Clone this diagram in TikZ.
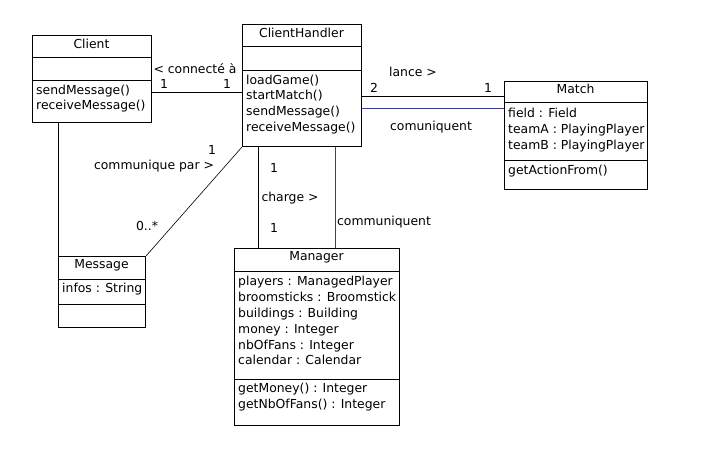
\documentclass[tikz,border=0pt]{standalone}
\usepackage{fontspec}
\setmainfont{DejaVu Sans}
\begin{document}
\begin{tikzpicture}[x=1pt,y=-1pt,
  box/.style={draw=black,line width=1pt,anchor=north west,inner sep=0pt,fill=white},
  divider/.style={line width=1pt,black},
  txt/.style={inner sep=0pt,anchor=mid west,yshift=-1.5pt,font=\fontsize{12.4}{14}\selectfont},
  ttl/.style={inner sep=0pt,anchor=mid,yshift=-1.5pt,font=\fontsize{12.4}{14}\selectfont},
  lbl/.style={inner sep=0pt,anchor=mid,yshift=-1.5pt,font=\fontsize{12.4}{14}\selectfont},
  assoc/.style={line width=1pt,black},
  blueassoc/.style={line width=1pt,draw={rgb,255:red,58;green,58;blue,144}}]
\useasboundingbox (0,0) rectangle (728,449);
\fill[white] (0,0) rectangle (728,449);

% boxes
\node[box,minimum width=119pt,minimum height=87pt] (client) at (32,35) {};
\node[box,minimum width=119pt,minimum height=122pt] (ch) at (242,24) {};
\node[box,minimum width=143pt,minimum height=108pt] (match) at (504,81) {};
\node[box,minimum width=87pt,minimum height=71pt] (msg) at (58,256) {};
\node[box,minimum width=165pt,minimum height=177pt] (mgr) at (234,248) {};

% dividers
\draw[divider] (client.west |- 0,58) -- (client.east |- 0,58);
\draw[divider] (client.west |- 0,81) -- (client.east |- 0,81);
\draw[divider] (ch.west |- 0,47) -- (ch.east |- 0,47);
\draw[divider] (ch.west |- 0,71) -- (ch.east |- 0,71);
\draw[divider] (match.west |- 0,103) -- (match.east |- 0,103);
\draw[divider] (match.west |- 0,161) -- (match.east |- 0,161);
\draw[divider] (msg.west |- 0,279) -- (msg.east |- 0,279);
\draw[divider] (msg.west |- 0,304) -- (msg.east |- 0,304);
\draw[divider] (mgr.west |- 0,271) -- (mgr.east |- 0,271);
\draw[divider] (mgr.west |- 0,379) -- (mgr.east |- 0,379);

% connectors
\draw[assoc] (client.east |- 0,93) -- (ch.west |- 0,93);
\draw[assoc] (ch.east |- 0,97) -- (match.west |- 0,97);
\draw[blueassoc] (ch.east |- 0,109) -- (match.west |- 0,109);
\draw[assoc] (client.south -| msg.west) -- (msg.north west);
\draw[line width=0.6pt] (ch.south west) -- (msg.north east);
\draw[assoc] (ch.south -| 258,0) -- (mgr.north -| 258,0);
\draw[blueassoc] (ch.south -| 335,0) -- (mgr.north -| 335,0);

% Client
\node[ttl] (clientN) at (91.5,44) {Client};
\node[txt] (clientM1) at (36,90) {sendMessage()};
\node[txt] (clientM2) at (36,105) {receiveMessage()};
% ClientHandler
\node[ttl] (chN) at (301.5,33) {ClientHandler};
\node[txt] (chM1) at (246,80) {loadGame()};
\node[txt] (chM2) at (246,95.5) {startMatch()};
\node[txt] (chM3) at (246,111) {sendMessage()};
\node[txt] (chM4) at (246,127) {receiveMessage()};
% Match
\node[ttl] (matchN) at (575.5,89) {Match};
\node[txt] (matchA1) at (508,113) {field : Field};
\node[txt] (matchA2) at (508,129) {teamA : PlayingPlayer};
\node[txt] (matchA3) at (508,145) {teamB : PlayingPlayer};
\node[txt] (matchM1) at (508,170) {getActionFrom()};
% Message
\node[ttl] (msgN) at (101.5,264) {Message};
\node[txt] (msgA1) at (62,288) {infos : String};
% Manager
\node[ttl] (mgrN) at (316.5,256) {Manager};
\node[txt] (mgrA1) at (238,281) {players : ManagedPlayer};
\node[txt] (mgrA2) at (238,297) {broomsticks : Broomstick};
\node[txt] (mgrA3) at (238,313) {buildings : Building};
\node[txt] (mgrA4) at (238,329) {money : Integer};
\node[txt] (mgrA5) at (238,345) {nbOfFans : Integer};
\node[txt] (mgrA6) at (238,360) {calendar : Calendar};
\node[txt] (mgrM1) at (238,388) {getMoney() : Integer};
\node[txt] (mgrM2) at (238,404) {getNbOfFans() : Integer};

% labels
\node[lbl] (l1) at (195,69) {< connecté à};
\node[lbl] (l2) at (164,84) {1};
\node[lbl] (l3) at (227,84) {1};
\node[lbl] (l4) at (413,72) {lance >};
\node[lbl] (l5) at (374,88) {2};
\node[lbl] (l6) at (488,88) {1};
\node[lbl] (l7) at (431,126) {comuniquent};
\node[lbl] (l8) at (212,150) {1};
\node[lbl] (l9) at (154,165) {communique par >};
\node[lbl] (l10) at (147,226) {0..*};
\node[lbl] (l11) at (274,168) {1};
\node[lbl] (l12) at (290,197) {charge >};
\node[lbl] (l13) at (274,228) {1};
\node[lbl] (l14) at (384,221) {communiquent};
\end{tikzpicture}
\end{document}
